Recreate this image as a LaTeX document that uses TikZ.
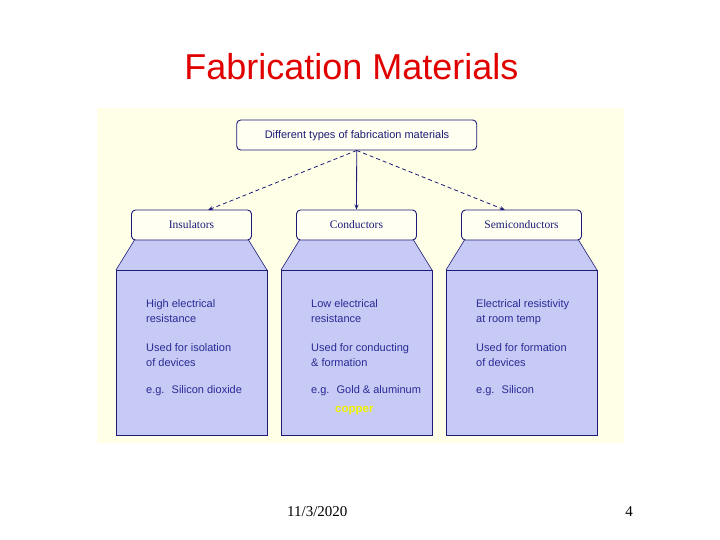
\documentclass[tikz,border=0pt]{standalone}
\usepackage{fontspec}
\setmainfont{Liberation Serif}
\setsansfont{Liberation Sans}
\usetikzlibrary{arrows.meta}
\definecolor{panel}{HTML}{FFFFE8}
\definecolor{navy}{HTML}{1C1C78}
\definecolor{lav}{HTML}{C6CAF4}
\definecolor{boxfill}{HTML}{FFFFF2}
\definecolor{txtblue}{HTML}{2A2A96}
\definecolor{titlered}{HTML}{E00000}
\definecolor{copperyel}{HTML}{F4F400}
\tikzset{
  hdrbox/.style={draw=navy, line width=0.9pt, fill=boxfill, rounded corners=4pt, minimum height=30pt, inner sep=0pt},
  bodybox/.style={draw=navy, line width=0.9pt, fill=lav, minimum width=151pt, minimum height=165pt, inner sep=0pt},
  hdrtxt/.style={font=\fontsize{11.5}{13}\selectfont, text=navy},
  bodytxt/.style={font=\sffamily\fontsize{11}{13}\selectfont, text=txtblue, anchor=base west, inner sep=0pt},
  conn/.style={draw=navy, line width=0.8pt, -{Stealth[length=5pt,width=4pt]}},
}
\begin{document}
\begin{tikzpicture}[x=1pt,y=-1pt]
\useasboundingbox (0,0) rectangle (720,540);
% title
\node[font=\sffamily\fontsize{36}{40}\selectfont, text=titlered, anchor=base] (title) at (351.5,80) {Fabrication Materials};
% panel
\fill[panel] (97,108) rectangle (624,443);
% trapezoids
\foreach \cx in {191.5,356.5,521.5}{
  \fill[lav] (\cx-57,240) -- (\cx+57,240) -- (\cx+75.5,270) -- (\cx-75.5,270) -- cycle;
  \draw[navy, line width=0.6pt] (\cx-57,240) -- (\cx-75.5,270);
  \draw[navy, line width=0.6pt] (\cx+57,240) -- (\cx+75.5,270);
}
% top box
\node[hdrbox, minimum width=240pt] (top) at (356.7,135) {};
\node[font=\sffamily\fontsize{11}{13}\selectfont, text=navy, anchor=base] (toptxt) at (357,138.5) {Different types of fabrication materials};
% child boxes
\node[hdrbox, minimum width=120pt] (ins) at (191.5,225) {};
\node[hdrbox, minimum width=120pt] (con) at (356.5,225) {};
\node[hdrbox, minimum width=120pt] (sem) at (521.5,225) {};
\node[hdrtxt, anchor=base] (instxt) at (191.5,228.5) {Insulators};
\node[hdrtxt, anchor=base] (contxt) at (356.5,228.5) {Conductors};
\node[hdrtxt, anchor=base] (semtxt) at (521.5,228.5) {Semiconductors};
% body boxes
\node[bodybox] (insr) at (191.5,352.5) {};
\node[bodybox] (conr) at (356.5,352.5) {};
\node[bodybox] (semr) at (521.5,352.5) {};
% connectors
\coordinate (insin) at (208,210);
\coordinate (semin) at (505,210);
\draw[conn, dash pattern=on 4pt off 3pt] (top.south) -- (insin);
\draw[conn] (top.south) -- (con.north);
\draw[conn, dash pattern=on 4pt off 3pt] (top.south) -- (semin);
% body texts
\node[bodytxt] (i1) at (146,307) {High electrical};
\node[bodytxt] (i2) at (146,322) {resistance};
\node[bodytxt] (i3) at (146,351.5) {Used for isolation};
\node[bodytxt] (i4) at (146,366.5) {of devices};
\node[bodytxt] (i5) at (146,393) {e.g. \ Silicon dioxide};
\node[bodytxt] (c1) at (311,307) {Low electrical};
\node[bodytxt] (c2) at (311,322) {resistance};
\node[bodytxt] (c3) at (311,351.5) {Used for conducting};
\node[bodytxt] (c4) at (311,366.5) {\& formation};
\node[bodytxt] (c5) at (311,393) {e.g. \ Gold \& aluminum};
\node[bodytxt, text=copperyel, font=\sffamily\bfseries\fontsize{11.5}{13}\selectfont] (c6) at (335,412) {copper};
\node[bodytxt] (s1) at (476,307) {Electrical resistivity};
\node[bodytxt] (s2) at (476,322) {at room temp};
\node[bodytxt] (s3) at (476,351.5) {Used for formation};
\node[bodytxt] (s4) at (476,366.5) {of devices};
\node[bodytxt] (s5) at (476,393) {e.g. \ Silicon};
% footer
\node[font=\fontsize{15}{17}\selectfont, anchor=base west, inner sep=0pt] (date) at (287,516) {11/3/2020};
\node[font=\fontsize{15}{17}\selectfont, anchor=base east, inner sep=0pt] (page) at (633,516) {4};
\end{tikzpicture}
\end{document}
